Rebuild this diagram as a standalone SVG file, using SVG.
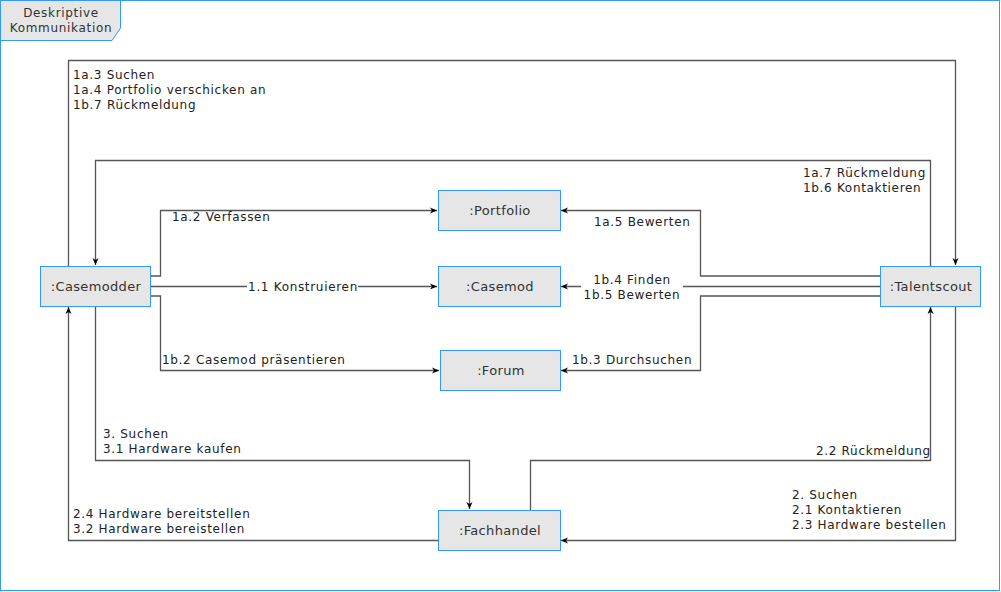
<svg xmlns="http://www.w3.org/2000/svg" width="1001" height="592" viewBox="0 0 1001 592">
<defs>
<marker id="ah" markerWidth="8" markerHeight="8" refX="7" refY="4" orient="auto" markerUnits="userSpaceOnUse">
<path d="M0,1 L7,4 L0,7 L2,4 Z" fill="#000"/>
</marker>
<style>
.frame{fill:#fff;stroke:#3399ff;stroke-width:1}
.tab{fill:#e6e6e6;stroke:#3399ff;stroke-width:1}
.node{fill:#e6e6e6;stroke:#3399ff;stroke-width:1}
.conn{fill:none;stroke:#555;stroke-width:1.3;marker-end:url(#ah)}
text{font-family:"DejaVu Sans","Verdana",sans-serif;font-size:12px;fill:#222;letter-spacing:0.68px}
.nt{font-size:13px;fill:#333;text-anchor:middle;letter-spacing:0.35px}
.mid{text-anchor:middle}
.bg{fill:#fff}
</style>
</defs>
<rect class="frame" x="0.5" y="0.5" width="999" height="590"/>
<g id="title">
<path class="tab" d="M0.5,0.5 H120.5 V28 L112,40.5 H0.5 Z"/>
<text class="mid" x="61" y="17" style="fill:#333">Deskriptive</text>
<text class="mid" x="61" y="32" style="fill:#333">Kommunikation</text>
</g>
<g id="connectors">
<path class="conn" d="M151,276 H160.5 V210.5 H437"/>
<path class="conn" d="M151,286.5 H437"/>
<path class="conn" d="M151,296 H160.5 V370.5 H439"/>
<path class="conn" d="M68.5,266 V60.5 H955.5 V265"/>
<path class="conn" d="M930.5,266 V160.5 H95.5 V265"/>
<path class="conn" d="M880,276 H700.5 V210.5 H561"/>
<path class="conn" d="M880,286.5 H561"/>
<path class="conn" d="M880,296 H700.5 V370.5 H561"/>
<path class="conn" d="M95.5,306 V460.5 H469.5 V509"/>
<path class="conn" d="M438,540.5 H68.5 V307"/>
<path class="conn" d="M530.5,510 V460.5 H930.5 V307"/>
<path class="conn" d="M955.5,306 V540.5 H561"/>
<rect class="bg" x="247" y="280" width="111" height="14"/>
<rect class="bg" x="581" y="272" width="102" height="30"/>
</g>
<g id="labels">
<text x="73" y="79">1a.3 Suchen</text>
<text x="73" y="94">1a.4 Portfolio verschicken an</text>
<text x="73" y="109">1b.7 Rückmeldung</text>
<text x="803" y="177">1a.7 Rückmeldung</text>
<text x="803" y="192">1b.6 Kontaktieren</text>
<text x="172" y="221">1a.2 Verfassen</text>
<text class="mid" x="303" y="291">1.1 Konstruieren</text>
<text x="162" y="364">1b.2 Casemod präsentieren</text>
<text x="594" y="226">1a.5 Bewerten</text>
<text class="mid" x="632" y="284">1b.4 Finden</text>
<text class="mid" x="632" y="299">1b.5 Bewerten</text>
<text x="572" y="364">1b.3 Durchsuchen</text>
<text x="103" y="438">3. Suchen</text>
<text x="103" y="453">3.1 Hardware kaufen</text>
<text x="816" y="455">2.2 Rückmeldung</text>
<text x="792" y="499">2. Suchen</text>
<text x="792" y="514">2.1 Kontaktieren</text>
<text x="792" y="529">2.3 Hardware bestellen</text>
<text x="73" y="518">2.4 Hardware bereitstellen</text>
<text x="73" y="533">3.2 Hardware bereistellen</text>
</g>
<g id="casemodder">
<rect class="node" x="40.5" y="266.5" width="110" height="40"/>
<text class="nt" x="96" y="291">:Casemodder</text>
</g>
<g id="portfolio">
<rect class="node" x="438.5" y="190.5" width="122" height="40"/>
<text class="nt" x="500" y="215">:Portfolio</text>
</g>
<g id="casemod">
<rect class="node" x="438.5" y="266.5" width="122" height="40"/>
<text class="nt" x="500" y="291">:Casemod</text>
</g>
<g id="forum">
<rect class="node" x="440.5" y="350.5" width="120" height="40"/>
<text class="nt" x="501" y="375">:Forum</text>
</g>
<g id="talentscout">
<rect class="node" x="880.5" y="266.5" width="100" height="40"/>
<text class="nt" x="931" y="291">:Talentscout</text>
</g>
<g id="fachhandel">
<rect class="node" x="438.5" y="510.5" width="122" height="40"/>
<text class="nt" x="500" y="535">:Fachhandel</text>
</g>
</svg>
